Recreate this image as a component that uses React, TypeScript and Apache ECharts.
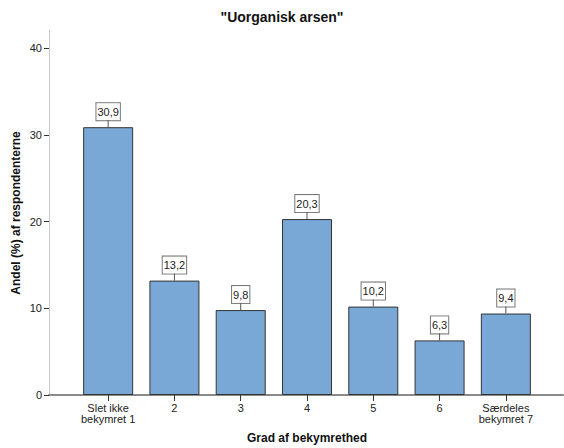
import React, { useEffect, useRef } from "react";
import * as echarts from "echarts";

const categories = ["Slet ikke\nbekymret 1", "2", "3", "4", "5", "6", "Særdeles\nbekymret 7"];
const values = [30.9, 13.2, 9.8, 20.3, 10.2, 6.3, 9.4];
const yTicks = [0, 10, 20, 30, 40];

const FONT = "'Liberation Sans', Arial, sans-serif";

export default function App() {
  const ref = useRef<HTMLDivElement>(null);
  useEffect(() => {
    if (!ref.current) return;
    const chart = echarts.init(ref.current, undefined, { renderer: "svg" });
    chart.setOption({
      animation: false,
      backgroundColor: "#fff",
      textStyle: { fontFamily: FONT },
      title: {
        text: '"Uorganisk arsen"',
        left: "center",
        top: 10,
        padding: 0,
        textStyle: { fontSize: 14, fontWeight: "bold", color: "#111", fontFamily: FONT },
      },
      grid: [
        { left: 49, right: 1, top: 31, bottom: 53, show: false, containLabel: false, outerBoundsMode: "none" },
        { left: 75, right: 25, top: 31, bottom: 53, show: false, containLabel: false, outerBoundsMode: "none" },
      ],
      xAxis: [
        {
          gridIndex: 0, type: "value", min: 0, max: 1, position: "bottom",
          axisLine: { show: true, lineStyle: { color: "#333", width: 1 } },
          axisTick: { show: false }, axisLabel: { show: false }, splitLine: { show: false },
        },
        {
          gridIndex: 0, type: "value", min: 0, max: 1, position: "top",
          axisLine: { show: true, lineStyle: { color: "#8a8a8a", width: 2 } },
          axisTick: { show: false }, axisLabel: { show: false }, splitLine: { show: false },
        },
        {
          gridIndex: 1, type: "category", data: categories, position: "bottom",
          axisLine: { show: false },
          axisTick: { show: true, alignWithLabel: true, length: 6, lineStyle: { color: "#333" } },
          axisLabel: { fontSize: 11, color: "#222", margin: 7, lineHeight: 11, interval: 0, fontFamily: FONT },
          name: "Grad af bekymrethed",
          nameLocation: "middle",
          nameGap: 37,
          nameMoveOverlap: false,
          nameTextStyle: { fontSize: 12, fontWeight: "bold", color: "#111", fontFamily: FONT },
        },
      ],
      yAxis: [
        {
          gridIndex: 0, type: "value", min: 0, max: 42, position: "left",
          axisLine: { show: true, lineStyle: { color: "#333", width: 1 } },
          axisTick: { show: true, length: 5, lineStyle: { color: "#333" }, customValues: yTicks },
          axisLabel: { fontSize: 11, color: "#222", margin: 7, customValues: yTicks, fontFamily: FONT },
          splitLine: { show: false },
          name: "Andel (%) af respondenterne",
          nameLocation: "middle",
          nameGap: 27,
          nameRotate: 90,
          nameMoveOverlap: false,
          nameTextStyle: { fontSize: 12, fontWeight: "bold", color: "#111", fontFamily: FONT },
        },
        {
          gridIndex: 0, type: "value", min: 0, max: 42, position: "right",
          axisLine: { show: true, lineStyle: { color: "#c8c8c8", width: 1 } },
          axisTick: { show: false }, axisLabel: { show: false }, splitLine: { show: false },
        },
        {
          gridIndex: 1, type: "value", min: 0, max: 42, show: false,
        },
      ],
      series: [
        {
          type: "bar",
          xAxisIndex: 2,
          yAxisIndex: 2,
          data: values,
          barWidth: 50,
          itemStyle: { color: "#79A8D6", borderColor: "#333", borderWidth: 1 },
          label: {
            show: true,
            position: "top",
            distance: 7,
            formatter: (p: any) => String(p.value).replace(".", ","),
            fontSize: 11,
            color: "#222",
            backgroundColor: "#fff",
            borderColor: "#777",
            borderWidth: 1,
            padding: [2, 1, 2, 1],
            lineHeight: 13,
            fontFamily: FONT,
          },
          z: 2,
        },
        {
          type: "custom",
          xAxisIndex: 2,
          yAxisIndex: 2,
          data: values.map((v, i) => [i, v]),
          renderItem: (params: any, api: any) => {
            const p = api.coord([api.value(0), api.value(1)]);
            return {
              type: "line",
              shape: { x1: p[0], y1: p[1], x2: p[0], y2: p[1] - 7 },
              style: { stroke: "#555", lineWidth: 1 },
            };
          },
          z: 3,
          silent: true,
        },
      ],
    });
    return () => chart.dispose();
  }, []);
  return (
    <div
      ref={ref}
      style={{ position: "fixed", left: 0, top: 0, width: 564, height: 448 }}
    />
  );
}
